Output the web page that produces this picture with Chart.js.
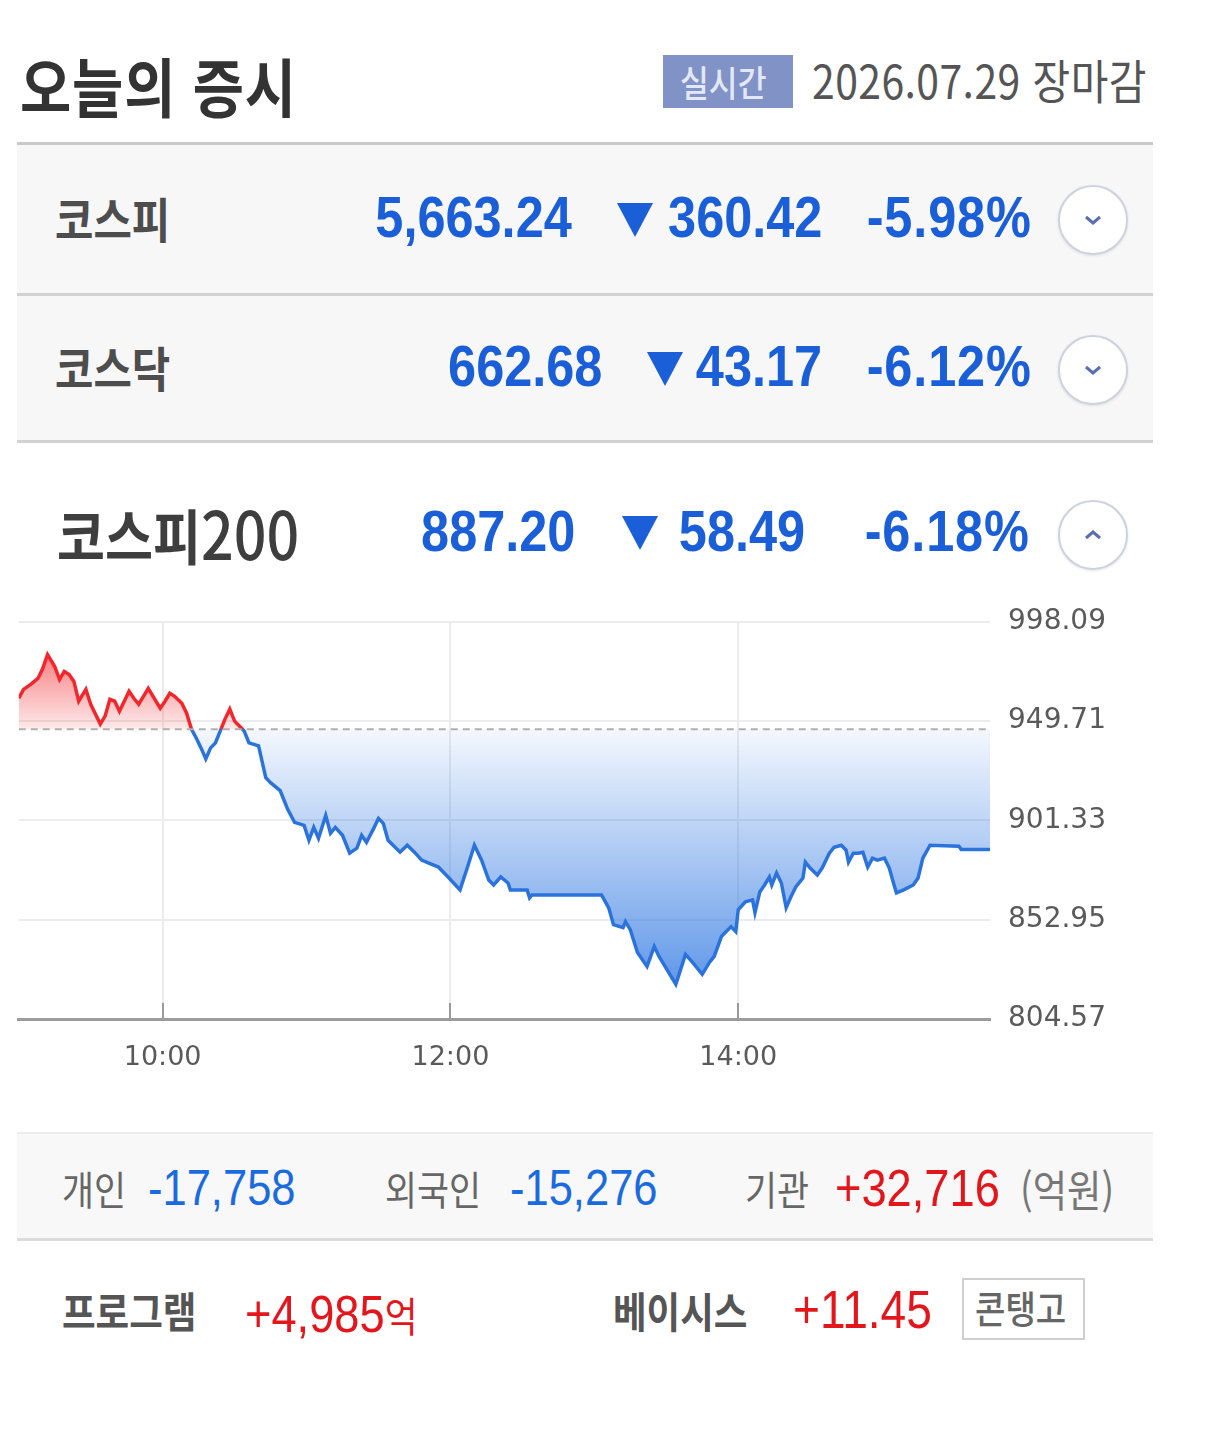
<!DOCTYPE html>
<html lang="ko"><head><meta charset="utf-8">
<script src="https://cdn.jsdelivr.net/npm/chart.js@4.4.1/dist/chart.umd.min.js"></script>
<style>
html,body{margin:0;padding:0;background:#fff;width:1232px;height:1440px;overflow:hidden}
.t{position:absolute;white-space:nowrap;height:100px;line-height:100px;font-family:"Noto Sans CJK KR","Noto Sans",sans-serif;transform-origin:left center;transform:scaleX(.87)}
.r{transform-origin:right center}
.num{font-family:"Liberation Sans",Arial,sans-serif}
.bar{position:absolute;left:17px;width:1136px}
.tri{position:absolute;width:0;height:0;border-left:18px solid transparent;border-right:18px solid transparent;border-top:34px solid #1b5fd8}
.circ{position:absolute;width:66px;height:66px;border:2px solid #cdd2df;border-radius:50%;background:#fff;box-shadow:0 1px 3px rgba(0,0,0,.10);display:flex;align-items:center;justify-content:center}
</style></head>
<body>
<!-- header -->
<div class="t" style="left:20px;top:34px;font-size:64px;font-weight:700;color:#333;letter-spacing:1px">오늘의 증시</div>
<div style="position:absolute;left:663px;top:55px;width:130px;height:53px;background:#8192c6;"></div>
<div class="t" style="left:680px;top:31px;font-size:36px;font-weight:500;color:#e3e8f6">실시간</div>
<div class="t" style="left:812px;top:29px;font-size:47px;color:#555;letter-spacing:.5px">2026.07.29 장마감</div>

<!-- rows -->
<div class="bar" style="top:142px;height:3px;background:#c9c9c9"></div>
<div class="bar" style="top:145px;height:148px;background:#f7f7f7"></div>
<div class="bar" style="top:293px;height:3px;background:#d2d2d2"></div>
<div class="bar" style="top:296px;height:144px;background:#f7f7f7"></div>
<div class="bar" style="top:440px;height:3px;background:#d2d2d2"></div>

<div class="t" style="left:55px;top:167px;font-size:48px;font-weight:700;color:#4d4d4d">코스피</div>
<div class="t num r" style="right:660px;top:167px;font-size:58px;font-weight:700;color:#1b5fd8">5,663.24</div>
<div class="tri" style="left:617px;top:203px"></div>
<div class="t num r" style="right:410px;top:167px;font-size:58px;font-weight:700;color:#1b5fd8">360.42</div>
<div class="t num r" style="right:200px;top:167px;font-size:58px;font-weight:700;color:#1b5fd8;letter-spacing:1px">-5.98%</div>
<div class="circ" style="left:1058px;top:185px"><svg width="18" height="10" viewBox="0 0 18 10"><polyline points="2,2 9,8 16,2" fill="none" stroke="#5b6fb0" stroke-width="3"/></svg></div>

<div class="t" style="left:55px;top:316px;font-size:48px;font-weight:700;color:#4d4d4d">코스닥</div>
<div class="t num r" style="right:630px;top:316px;font-size:58px;font-weight:700;color:#1b5fd8">662.68</div>
<div class="tri" style="left:647px;top:352px"></div>
<div class="t num r" style="right:410px;top:316px;font-size:58px;font-weight:700;color:#1b5fd8">43.17</div>
<div class="t num r" style="right:200px;top:316px;font-size:58px;font-weight:700;color:#1b5fd8;letter-spacing:1px">-6.12%</div>
<div class="circ" style="left:1058px;top:335px"><svg width="18" height="10" viewBox="0 0 18 10"><polyline points="2,2 9,8 16,2" fill="none" stroke="#5b6fb0" stroke-width="3"/></svg></div>

<div class="t" style="left:57px;top:481px;font-size:60px;font-weight:700;color:#3e3e3e">코스피<span style="font-weight:500;font-size:66px">200</span></div>
<div class="t num r" style="right:657px;top:481px;font-size:58px;font-weight:700;color:#1b5fd8">887.20</div>
<div class="tri" style="left:622px;top:516px"></div>
<div class="t num r" style="right:427px;top:481px;font-size:58px;font-weight:700;color:#1b5fd8">58.49</div>
<div class="t num r" style="right:202px;top:481px;font-size:58px;font-weight:700;color:#1b5fd8;letter-spacing:1px">-6.18%</div>
<div class="circ" style="left:1058px;top:500px"><svg width="18" height="10" viewBox="0 0 18 10"><polyline points="2,8 9,2 16,8" fill="none" stroke="#5b6fb0" stroke-width="3"/></svg></div>

<!-- chart -->
<div id="cw" style="position:absolute;left:17px;top:587px;width:1130px;height:493px"><canvas id="c"></canvas></div>

<!-- investors -->
<div class="bar" style="top:1132px;height:2px;background:#ececec"></div>
<div class="bar" style="top:1134px;height:104px;background:#f8f8f8"></div>
<div class="bar" style="top:1238px;height:3px;background:#dcdcdc"></div>
<div class="t" style="left:62px;top:1138px;font-size:40px;color:#666">개인</div>
<div class="t num" style="left:148px;top:1138px;font-size:50px;color:#1b6be0">-17,758</div>
<div class="t" style="left:385px;top:1138px;font-size:40px;color:#666">외국인</div>
<div class="t num" style="left:510px;top:1138px;font-size:50px;color:#1b6be0">-15,276</div>
<div class="t" style="left:745px;top:1138px;font-size:40px;color:#666">기관</div>
<div class="t num" style="left:835px;top:1138px;font-size:52px;color:#e3161c">+32,716</div>
<div class="t" style="left:1020px;top:1138px;font-size:43px;color:#777">(억원)</div>

<!-- program / basis -->
<div class="t" style="left:62px;top:1260px;font-size:42px;font-weight:700;color:#555">프로그램</div>
<div class="t" style="left:245px;top:1260px;font-size:52px;color:#e3161c"><span class="num">+4,985</span><span style="font-size:41px">억</span></div>
<div class="t" style="left:613px;top:1260px;font-size:42px;font-weight:700;color:#555">베이시스</div>
<div class="t num" style="left:793px;top:1260px;font-size:53px;color:#e3161c">+11.45</div>
<div style="position:absolute;left:962px;top:1278px;width:119px;height:58px;border:2px solid #cfcfcf;background:#fff"></div>
<div class="t" style="left:975px;top:1257px;font-size:38px;font-weight:500;color:#666">콘탱고</div>

<script>
// ---- data ----
const prevClose = 945.69;
const times = ["09:00","09:02","09:05","09:08","09:10","09:12","09:15","09:17","09:19","09:21","09:23","09:25","09:28","09:30","09:34","09:36","09:38","09:40","09:42","09:44","09:46","09:48","09:50","09:52","09:54","09:56","09:59","10:01","10:03","10:05","10:08","10:10","10:12","10:14","10:16","10:18","10:20","10:22","10:24","10:26","10:28","10:30","10:32","10:34","10:36","10:40","10:43","10:45","10:49","10:52","10:55","10:59","11:01","11:03","11:05","11:08","11:10","11:12","11:15","11:18","11:21","11:23","11:25","11:28","11:30","11:32","11:34","11:39","11:42","11:45","11:48","11:51","11:55","11:59","12:04","12:07","12:10","12:13","12:16","12:18","12:21","12:24","12:25","12:32","12:33","12:34","13:03","13:06","13:08","13:12","13:13","13:15","13:18","13:22","13:25","13:27","13:31","13:34","13:36","13:38","13:41","13:45","13:48","13:50","13:53","13:57","13:59","14:00","14:03","14:06","14:07","14:09","14:11","14:13","14:14","14:16","14:18","14:20","14:22","14:24","14:27","14:28","14:30","14:33","14:35","14:38","14:40","14:43","14:45","14:46","14:48","14:50","14:52","14:54","14:56","14:58","15:01","15:03","15:05","15:06","15:09","15:13","15:15","15:17","15:20","15:32","15:33","15:45"];
const kospi200 = [960.84,965.19,967.61,970.51,975.35,982.12,976.32,970.03,973.90,972.45,969.06,959.39,965.19,957.93,948.26,952.13,960.35,959.39,954.55,959.39,964.22,960.84,957.93,961.80,965.68,961.80,956.00,959.39,963.26,961.80,958.42,953.58,945.84,941.49,936.65,931.33,936.65,939.07,944.87,950.68,955.52,949.71,947.29,944.87,939.07,937.61,922.13,919.71,915.84,907.14,900.36,898.91,891.65,897.94,892.62,903.75,895.04,897.94,894.07,885.36,887.78,894.07,890.69,897.46,902.30,899.88,891.65,885.85,889.23,885.85,881.98,880.53,878.59,873.75,867.46,878.11,889.23,881.98,872.30,869.88,873.75,870.85,867.46,867.46,863.59,865.04,865.04,858.76,850.53,849.08,851.98,848.11,836.98,830.21,839.89,835.05,827.31,821.50,828.76,836.02,832.15,826.34,832.15,835.05,844.73,849.56,847.14,857.79,861.66,862.63,856.34,866.50,869.88,873.75,869.88,875.69,870.85,858.76,864.08,868.92,873.27,881.01,878.11,874.72,878.11,885.36,888.27,889.23,886.82,881.01,885.36,885.36,885.85,878.59,882.95,881.98,882.95,878.11,869.88,866.01,867.46,869.88,873.27,882.95,889.23,888.75,887.20,887.20];
const yTickValues = [804.57, 852.95, 901.33, 949.71, 998.09];
const xTickLabels = ["10:00","12:00","14:00"];
const xStart = "09:00", xEnd = "15:45";

// ---- helpers ----
const toMin = s => { const [h,m] = s.split(":").map(Number); return (h-9)*60 + m; };
const toLabel = v => { const h = 9 + Math.floor(v/60), m = v % 60; return h + ":" + String(m).padStart(2,"0"); };
const points = times.map((t,i) => ({x: toMin(t), y: kospi200[i]}));

const tickMarks = {
  id: 'tickMarks',
  afterDatasetsDraw(chart) {
    const {ctx, chartArea, scales: {x}} = chart;
    ctx.save(); ctx.strokeStyle = '#9a9a9a'; ctx.lineWidth = 2;
    x.ticks.forEach(t => { const px = Math.round(x.getPixelForValue(t.value));
      ctx.beginPath(); ctx.moveTo(px, chartArea.bottom - 16); ctx.lineTo(px, chartArea.bottom); ctx.stroke(); });
    ctx.restore();
  }
};

const chart = new Chart(document.getElementById('c'), {
  type: 'line',
  data: { datasets: [
    { data: points, borderColor: '#2b73dc', borderWidth: 3.5, pointRadius: 0, tension: 0, order: 1,
      fill: { target: { value: prevClose }, above: 'rgba(240,50,55,0.3)', below: 'rgba(40,115,225,0.3)' } },
    { data: [{x: toMin(xStart), y: prevClose}, {x: toMin(xEnd), y: prevClose}], borderColor: '#b0b0b0',
      borderWidth: 2, borderDash: [7,5], pointRadius: 0, fill: false, order: 0 }
  ]},
  options: {
    responsive: true, maintainAspectRatio: false, animation: false,
    layout: { padding: { top: 20, left: 0, right: 0, bottom: 0 } },
    plugins: { legend: { display: false }, tooltip: { enabled: false } },
    scales: {
      x: { type: 'linear', min: toMin(xStart), max: toMin(xEnd),
        afterBuildTicks: s => { s.ticks = xTickLabels.map(l => ({value: toMin(l)})); },
        afterFit: s => { s.height = 61; },
        ticks: { callback: v => toLabel(v), color: '#5a5a5a', padding: 23, maxRotation: 0,
          font: { family: 'DejaVu Sans', size: 27 } },
        grid: { color: '#ececec', lineWidth: 2, drawTicks: false },
        border: { display: true, color: '#9c9c9c', width: 3 } },
      y: { position: 'right', min: yTickValues[0], max: yTickValues[yTickValues.length-1],
        afterBuildTicks: s => { s.ticks = yTickValues.map(v => ({value: v})); },
        afterFit: s => { s.width = 157; },
        ticks: { callback: v => Number(v).toFixed(2), color: '#5a5a5a', padding: 18,
          font: { family: 'DejaVu Sans', size: 28 } },
        grid: { color: '#ececec', lineWidth: 2, drawTicks: false },
        border: { display: false } }
    }
  },
  plugins: [tickMarks]
});

// gradients in pixel space from the chart's own scales
(function(){
  const {ctx, chartArea, scales: {y}} = chart;
  const by = y.getPixelForValue(prevClose);
  const top = chartArea.top, bot = chartArea.bottom;
  const f = (by - top) / (bot - top);
  const lg = ctx.createLinearGradient(0, top, 0, bot);
  lg.addColorStop(0, '#f2262b'); lg.addColorStop(f, '#f2262b');
  lg.addColorStop(f, '#2b73dc'); lg.addColorStop(1, '#2b73dc');
  const rg = ctx.createLinearGradient(0, top + 25, 0, by);
  rg.addColorStop(0, 'rgba(242,45,50,0.65)'); rg.addColorStop(1, 'rgba(242,45,50,0.1)');
  const bg = ctx.createLinearGradient(0, by, 0, bot - 30);
  bg.addColorStop(0, 'rgba(40,115,225,0.05)'); bg.addColorStop(1, 'rgba(40,115,225,0.75)');
  const ds = chart.data.datasets[0];
  ds.borderColor = lg;
  ds.fill = { target: { value: prevClose }, above: rg, below: bg };
  chart.update();
})();
</script>
</body></html>
